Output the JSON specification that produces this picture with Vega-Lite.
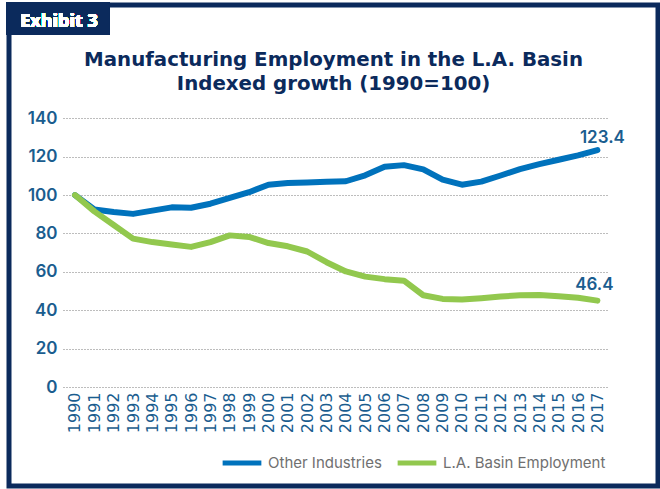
{
  "$schema": "https://vega.github.io/schema/vega-lite/v6.json",
  "width": 649,
  "height": 481,
  "autosize": {"type": "none"},
  "padding": {"left": 9, "top": 5, "right": 2, "bottom": 3},
  "background": "white",
  "config": {
    "view": {"stroke": "#0b2a5c", "strokeWidth": 5},
    "font": "Inter"
  },
  "title": {
    "text": ["Manufacturing Employment in the L.A. Basin", "Indexed growth (1990=100)"],
    "font": "DejaVu Sans",
    "fontSize": 19.8,
    "fontWeight": 700,
    "color": "#0b2a5c",
    "anchor": "middle",
    "frame": "group",
    "lineHeight": 24,
    "offset": -92
  },
  "data": {
    "values": [
      {"year": 1990, "series": "Other Industries", "value": 100},
      {"year": 1991, "series": "Other Industries", "value": 92.5},
      {"year": 1992, "series": "Other Industries", "value": 91.2},
      {"year": 1993, "series": "Other Industries", "value": 90.2},
      {"year": 1994, "series": "Other Industries", "value": 91.9},
      {"year": 1995, "series": "Other Industries", "value": 93.6},
      {"year": 1996, "series": "Other Industries", "value": 93.4},
      {"year": 1997, "series": "Other Industries", "value": 95.5},
      {"year": 1998, "series": "Other Industries", "value": 98.5},
      {"year": 1999, "series": "Other Industries", "value": 101.5},
      {"year": 2000, "series": "Other Industries", "value": 105.4},
      {"year": 2001, "series": "Other Industries", "value": 106.3},
      {"year": 2002, "series": "Other Industries", "value": 106.6},
      {"year": 2003, "series": "Other Industries", "value": 106.9},
      {"year": 2004, "series": "Other Industries", "value": 107.2},
      {"year": 2005, "series": "Other Industries", "value": 110.3},
      {"year": 2006, "series": "Other Industries", "value": 114.7},
      {"year": 2007, "series": "Other Industries", "value": 115.6},
      {"year": 2008, "series": "Other Industries", "value": 113.4},
      {"year": 2009, "series": "Other Industries", "value": 108},
      {"year": 2010, "series": "Other Industries", "value": 105.4},
      {"year": 2011, "series": "Other Industries", "value": 107},
      {"year": 2012, "series": "Other Industries", "value": 110.2},
      {"year": 2013, "series": "Other Industries", "value": 113.5},
      {"year": 2014, "series": "Other Industries", "value": 116.1},
      {"year": 2015, "series": "Other Industries", "value": 118.4},
      {"year": 2016, "series": "Other Industries", "value": 120.7},
      {"year": 2017, "series": "Other Industries", "value": 123.4, "label": "123.4"},
      {"year": 1990, "series": "L.A. Basin Employment", "value": 100},
      {"year": 1991, "series": "L.A. Basin Employment", "value": 91.5},
      {"year": 1992, "series": "L.A. Basin Employment", "value": 84.4},
      {"year": 1993, "series": "L.A. Basin Employment", "value": 77.3},
      {"year": 1994, "series": "L.A. Basin Employment", "value": 75.5},
      {"year": 1995, "series": "L.A. Basin Employment", "value": 74.2},
      {"year": 1996, "series": "L.A. Basin Employment", "value": 73},
      {"year": 1997, "series": "L.A. Basin Employment", "value": 75.5},
      {"year": 1998, "series": "L.A. Basin Employment", "value": 79},
      {"year": 1999, "series": "L.A. Basin Employment", "value": 78.2},
      {"year": 2000, "series": "L.A. Basin Employment", "value": 75},
      {"year": 2001, "series": "L.A. Basin Employment", "value": 73.3},
      {"year": 2002, "series": "L.A. Basin Employment", "value": 70.6},
      {"year": 2003, "series": "L.A. Basin Employment", "value": 65},
      {"year": 2004, "series": "L.A. Basin Employment", "value": 60.2},
      {"year": 2005, "series": "L.A. Basin Employment", "value": 57.5},
      {"year": 2006, "series": "L.A. Basin Employment", "value": 56.2},
      {"year": 2007, "series": "L.A. Basin Employment", "value": 55.4},
      {"year": 2008, "series": "L.A. Basin Employment", "value": 47.8},
      {"year": 2009, "series": "L.A. Basin Employment", "value": 45.9},
      {"year": 2010, "series": "L.A. Basin Employment", "value": 45.6},
      {"year": 2011, "series": "L.A. Basin Employment", "value": 46.3},
      {"year": 2012, "series": "L.A. Basin Employment", "value": 47.1},
      {"year": 2013, "series": "L.A. Basin Employment", "value": 47.8},
      {"year": 2014, "series": "L.A. Basin Employment", "value": 47.9},
      {"year": 2015, "series": "L.A. Basin Employment", "value": 47.3},
      {"year": 2016, "series": "L.A. Basin Employment", "value": 46.5},
      {"year": 2017, "series": "L.A. Basin Employment", "value": 45, "label": "46.4"}
    ]
  },
  "layer": [
    {
      "mark": {"type": "rect", "fill": "#0b2a5c"},
      "encoding": {
        "x": {"datum": 1986.434, "type": "quantitative"},
        "x2": {"datum": 1991.809},
        "y": {"datum": 200.6, "type": "quantitative"},
        "y2": {"datum": 183.4}
      }
    },
    {
      "mark": {"type": "text", "text": "Exhibit 3", "color": "white", "font": "Open Sans", "fontSize": 18, "fontWeight": 700, "align": "center", "baseline": "alphabetic"},
      "encoding": {
        "x": {"datum": 1989.173, "type": "quantitative"},
        "y": {"datum": 187.6, "type": "quantitative"}
      }
    },
    {
      "mark": {"type": "line", "strokeWidth": 6, "strokeCap": "round", "strokeJoin": "round"},
      "encoding": {
        "x": {
          "field": "year",
          "type": "quantitative",
          "scale": {"domain": [1989.38, 2017.548], "range": [54, 599], "nice": false, "zero": false},
          "axis": {
            "values": [1990,1991,1992,1993,1994,1995,1996,1997,1998,1999,2000,2001,2002,2003,2004,2005,2006,2007,2008,2009,2010,2011,2012,2013,2014,2015,2016,2017],
            "tickCount": 40,
            "format": "d",
            "title": null,
            "grid": false,
            "domain": false,
            "ticks": false,
            "offset": -97,
            "labelPadding": 3,
            "labelAngle": -90,
            "labelOverlap": false,
            "labelFlush": false,
            "labelFont": "DejaVu Sans",
            "labelFontSize": 16,
            "labelFontWeight": 400,
            "labelColor": "#1a5d8f"
          }
        },
        "y": {
          "field": "value",
          "type": "quantitative",
          "scale": {"domain": [0, 140], "range": [382, 113.3], "nice": false},
          "axis": {
            "values": [0, 20, 40, 60, 80, 100, 120, 140],
            "tickCount": 10,
            "title": null,
            "grid": true,
            "gridDash": [1, 2],
            "gridColor": "#7a7a7a",
            "gridWidth": 1,
            "domain": false,
            "ticks": false,
            "offset": -52,
            "labelPadding": 4,
            "labelFont": "Inter",
            "labelFontSize": 17,
            "labelFontWeight": 600,
            "labelColor": "#1a5d8f"
          }
        },
        "color": {
          "field": "series",
          "type": "nominal",
          "scale": {"domain": ["Other Industries", "L.A. Basin Employment"], "range": ["#0072bc", "#92c84e"]},
          "legend": {
            "title": null,
            "orient": "none",
            "legendX": 211,
            "legendY": 436,
            "direction": "horizontal",
            "symbolType": "stroke",
            "symbolSize": 1500,
            "symbolStrokeWidth": 5,
            "labelOffset": 4,
            "columnPadding": 5,
            "labelLimit": 300,
            "labelFont": "Inter",
            "labelFontSize": 15,
            "labelColor": "#707070"
          }
        }
      }
    },
    {
      "transform": [{"filter": "datum.series === 'Other Industries' && datum.year === 2017"}],
      "mark": {"type": "text", "dx": 5, "dy": -7, "align": "center", "baseline": "alphabetic", "font": "Inter", "fontSize": 17, "fontWeight": 600, "color": "#1a5d8f"},
      "encoding": {
        "x": {"field": "year", "type": "quantitative"},
        "y": {"field": "value", "type": "quantitative"},
        "text": {"field": "label"}
      }
    },
    {
      "transform": [{"filter": "datum.series === 'L.A. Basin Employment' && datum.year === 2017"}],
      "mark": {"type": "text", "dx": -3, "dy": -11, "align": "center", "baseline": "alphabetic", "font": "Inter", "fontSize": 17, "fontWeight": 600, "color": "#1a5d8f"},
      "encoding": {
        "x": {"field": "year", "type": "quantitative"},
        "y": {"field": "value", "type": "quantitative"},
        "text": {"field": "label"}
      }
    }
  ]
}
